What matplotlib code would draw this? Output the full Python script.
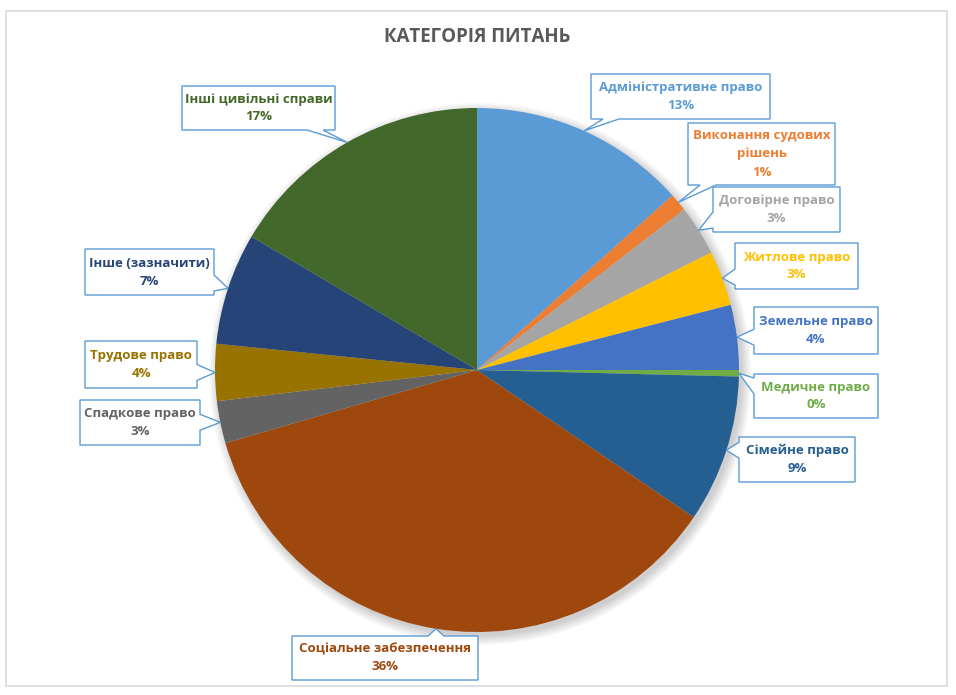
import matplotlib
matplotlib.use("Agg")
import numpy as np
import matplotlib.pyplot as plt
from matplotlib.patches import Polygon, Rectangle, Circle

plt.rcParams['font.family'] = ['Open Sans', 'DejaVu Sans']

# data (share of questions, %)
categories = ["Адміністративне право", "Виконання судових\nрішень", "Договірне право",
              "Житлове право", "Земельне право", "Медичне право", "Сімейне право",
              "Соціальне забезпечення", "Спадкове право", "Трудове право",
              "Інше (зазначити)", "Інші цивільні справи"]
values = [13.4, 1.1, 3.1, 3.4, 4.0, 0.4, 9.1, 36.0, 2.6, 3.5, 6.9, 16.5]
pct_labels = ["13%", "1%", "3%", "3%", "4%", "0%", "9%", "36%", "3%", "4%", "7%", "17%"]
colors = ["#5B9BD5", "#ED7D31", "#A5A5A5", "#FFC000", "#4472C4", "#70AD47",
          "#255E91", "#9E480E", "#636363", "#997300", "#264478", "#43682B"]

# callout boxes in pixels (x0, y0, x1, y1), top-left origin, and side of the pointer
boxes = [(591, 74, 770, 119), (688, 123, 835, 185), (713, 187, 840, 232),
         (735, 243, 858, 289), (754, 307, 878, 354), (754, 374, 878, 418),
         (739, 437, 855, 482), (292, 636, 478, 680), (80, 400, 200, 445),
         (85, 341, 197, 388), (85, 249, 214, 295), (182, 86, 335, 130)]
sides = ["b", "b", "l", "l", "l", "l", "l", "t", "r", "r", "r", "b"]

W, H = 956, 695
fig = plt.figure(figsize=(W / 100, H / 100), dpi=100)

# chart area border
fig.add_artist(Rectangle((6 / W, 1 - 686 / H), 941 / W, 675 / H, transform=fig.transFigure,
                         fill=False, edgecolor="#D9D9D9", linewidth=1.2))

cx, cy, r = 477, 370, 262
ax = fig.add_axes([(cx - r) / W, (H - cy - r) / H, 2 * r / W, 2 * r / H])

# soft shadow
for i in range(8):
    ax.add_patch(Circle((0.012, -0.015), 1 + 0.005 * i, color="black", alpha=0.025,
                        lw=0, zorder=0, clip_on=False))

wedges, _ = ax.pie(values, colors=colors, startangle=90, counterclock=False,
                   wedgeprops=dict(linewidth=0))
ax.set_xlim(-1, 1)
ax.set_ylim(-1, 1)
ax.set_aspect("equal")
ax.axis("off")

fig.text(cx / W, 1 - 37 / H, "КАТЕГОРІЯ ПИТАНЬ", ha="center", va="center",
         fontsize=13.5, fontweight="bold", color="#595959")

fig.canvas.draw()
to_fig = fig.transFigure.inverted()
hw = 8

for w, name, pct, col, (x0, y0, x1, y1), side in zip(wedges, categories, pct_labels,
                                                      colors, boxes, sides):
    # pointer tip on the rim at the middle of the slice
    mid = np.deg2rad((w.theta1 + w.theta2) / 2)
    disp = ax.transData.transform((w.r * np.cos(mid), w.r * np.sin(mid)))
    fx, fy = to_fig.transform(disp)
    tx, ty = fx * W, (1 - fy) * H

    if side == "b":
        bc = min(max(tx, x0 + 20), x1 - 20)
        pts = [(x0, y0), (x1, y0), (x1, y1), (bc + hw, y1), (tx, ty), (bc - hw, y1), (x0, y1)]
    elif side == "t":
        bc = min(max(tx, x0 + 20), x1 - 20)
        pts = [(x0, y0), (bc - hw, y0), (tx, ty), (bc + hw, y0), (x1, y0), (x1, y1), (x0, y1)]
    elif side == "l":
        bc = min(max(ty, y0 + 12), y1 - 12)
        pts = [(x0, y0), (x1, y0), (x1, y1), (x0, y1), (x0, bc + hw), (tx, ty), (x0, bc - hw)]
    else:
        bc = min(max(ty, y0 + 12), y1 - 12)
        pts = [(x0, y0), (x1, y0), (x1, bc - hw), (tx, ty), (x1, bc + hw), (x1, y1), (x0, y1)]

    fpts = [(px / W, 1 - py / H) for px, py in pts]
    fig.add_artist(Polygon(fpts, closed=True, transform=fig.transFigure,
                           facecolor="white", edgecolor="#5B9BD5", linewidth=1.0, zorder=2))
    fig.text((x0 + x1) / 2 / W, 1 - (y0 + y1) / 2 / H, name + "\n" + pct,
             ha="center", va="center", fontsize=9.5, fontweight="bold", color=col,
             linespacing=1.5, zorder=3)

fig.savefig("out.png", dpi=100)
